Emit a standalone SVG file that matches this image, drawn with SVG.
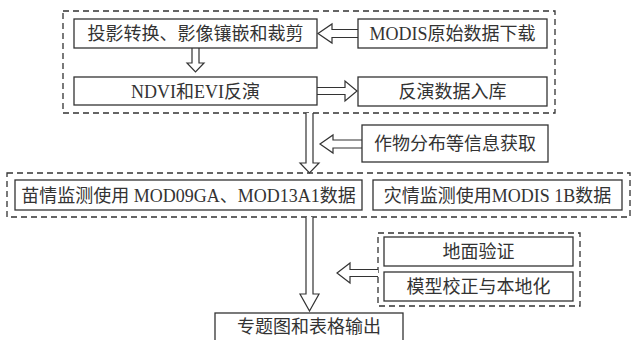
<svg xmlns="http://www.w3.org/2000/svg" width="632" height="340" viewBox="0 0 632 340">
  <defs>
    <style>
      .frame { fill: none; stroke: #333; stroke-width: 1.3; stroke-dasharray: 6 4; }
      .box { fill: #fff; stroke: #333; stroke-width: 1.3; }
      .arrow { fill: #fff; stroke: #333; stroke-width: 1.2; stroke-linejoin: miter; }
      .label { font-family: "Liberation Serif", "Noto Sans CJK SC", serif; font-size: 18px; fill: #333; text-anchor: middle; }
    </style>
  </defs>
  <rect width="632" height="340" fill="#fff"/>

  <!-- dashed group frames -->
  <g id="frames">
    <rect class="frame" x="63" y="11" width="492" height="102"/>
    <rect class="frame" x="7" y="173" width="623" height="44"/>
    <rect class="frame" x="378" y="233" width="202" height="73"/>
  </g>

  <!-- hollow block arrows -->
  <g id="connectors">
    <path class="arrow" d="M358,29.5 H332 V24 L318,33.5 L332,43 V37.5 H358"/>
    <path class="arrow" d="M192,48 V63 H187 L195.5,72 L204,63 H199 V48"/>
    <path class="arrow" d="M317,87.5 H345 V81 L357,91 L345,101 V94.5 H317"/>
    <path class="arrow" d="M306,113 V163 H300 L309.5,173 L319,163 H313 V113"/>
    <path class="arrow" d="M362,140 H333 V135 L320,144 L333,153 V148 H362"/>
    <path class="arrow" d="M306,217 V294 H300 L309.5,311 L319,294 H313 V217"/>
    <path class="arrow" d="M378,269.5 H350 V263 L337,273 L350,283 V276.5 H378"/>
  </g>

  <g id="node-reproject">
    <rect class="box" x="74" y="19" width="243" height="29"/>
    <text class="label" x="195.5" y="40">投影转换、影像镶嵌和裁剪</text>
  </g>
  <g id="node-download">
    <rect class="box" x="358" y="19" width="189" height="29"/>
    <text class="label" x="452.5" y="40">MODIS原始数据下载</text>
  </g>
  <g id="node-inversion">
    <rect class="box" x="74" y="77" width="243" height="28"/>
    <text class="label" x="195.5" y="97.5">NDVI和EVI反演</text>
  </g>
  <g id="node-storage">
    <rect class="box" x="358" y="77" width="189" height="29"/>
    <text class="label" x="452.5" y="98">反演数据入库</text>
  </g>
  <g id="node-crop-info">
    <rect class="box" x="362" y="125" width="186" height="37"/>
    <text class="label" x="455" y="150">作物分布等信息获取</text>
  </g>
  <g id="node-seedling">
    <rect class="box" x="15" y="180" width="347" height="30"/>
    <text class="label" x="188.5" y="201.5">苗情监测使用 MOD09GA、MOD13A1数据</text>
  </g>
  <g id="node-disaster">
    <rect class="box" x="373" y="180" width="249" height="30"/>
    <text class="label" x="497.5" y="201.5">灾情监测使用MODIS 1B数据</text>
  </g>
  <g id="node-ground">
    <rect class="box" x="384" y="237" width="189" height="29"/>
    <text class="label" x="478.5" y="258">地面验证</text>
  </g>
  <g id="node-model">
    <rect class="box" x="384" y="272" width="189" height="29"/>
    <text class="label" x="478.5" y="293">模型校正与本地化</text>
  </g>
  <g id="node-output">
    <rect class="box" x="215" y="313" width="188" height="32"/>
    <text class="label" x="309" y="332.5">专题图和表格输出</text>
  </g>
</svg>
